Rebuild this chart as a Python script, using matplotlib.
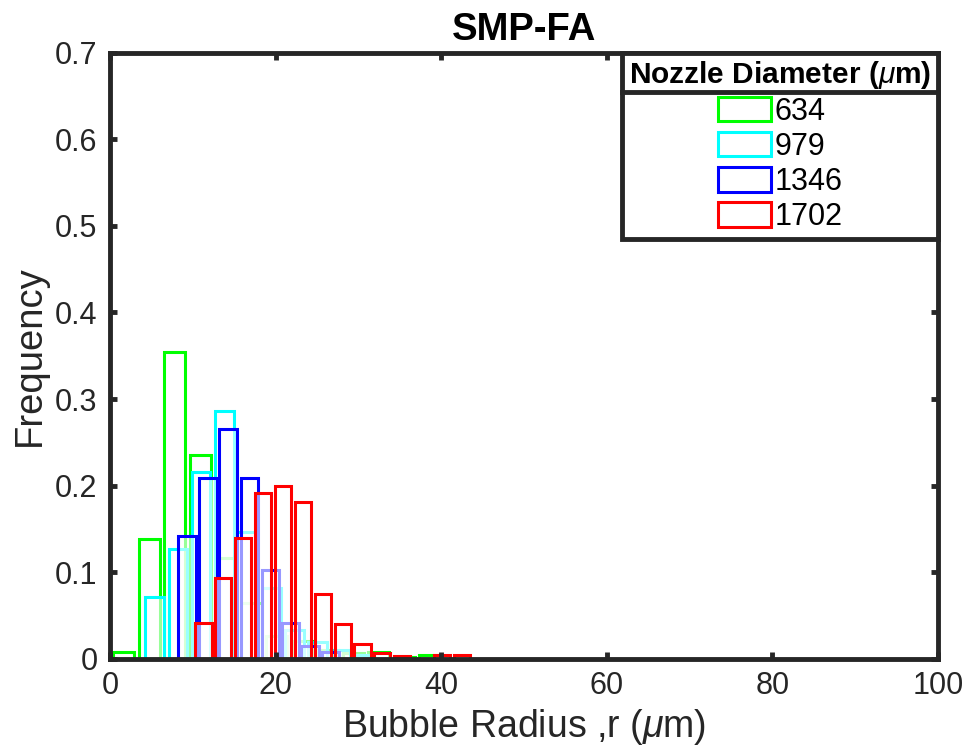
import numpy as np
import matplotlib
matplotlib.use("Agg")
import matplotlib.pyplot as plt
from matplotlib.lines import Line2D

plt.rcParams['font.family'] = ['Liberation Sans', 'DejaVu Sans']
plt.rcParams['mathtext.fontset'] = 'custom'
plt.rcParams['mathtext.it'] = 'Liberation Sans:italic'
plt.rcParams['mathtext.rm'] = 'Liberation Sans'

# nozzle diameters (um) and histogram bins
labels = ['634', '979', '1346', '1702']
colors = ['#00ff00', '#00ffff', '#0000ff', '#ff0000']

g_centers = [1.65, 4.73, 7.81, 10.89, 13.97, 17.05, 20.13, 23.21, 26.29, 29.37, 32.45, 35.53, 38.61]
g_freq = [0.008, 0.139, 0.354, 0.235, 0.116, 0.065, 0.026, 0.021, 0.010, 0.007, 0.008, 0.002, 0.004]
g_width = 2.55

c_centers = [5.4, 8.2, 11.0, 13.8, 16.5, 19.5, 22.3, 25.1, 27.9, 30.7]
c_freq = [0.072, 0.127, 0.216, 0.286, 0.146, 0.082, 0.033, 0.019, 0.010, 0.004]
c_width = 2.25

b_centers = [9.3, 11.85, 14.25, 16.85, 19.35, 21.8, 24.15, 26.6]
b_freq = [0.142, 0.209, 0.266, 0.209, 0.103, 0.041, 0.015, 0.008]
b_width = 2.1

r_centers = [11.3, 13.7, 16.1, 18.5, 20.9, 23.3, 25.7, 28.1, 30.5, 32.9, 35.3, 37.7, 40.1, 42.5]
r_freq = [0.041, 0.093, 0.140, 0.192, 0.200, 0.181, 0.075, 0.040, 0.017, 0.007, 0.003, 0.0, 0.005, 0.005]
r_width = 1.95

series = [(g_centers, g_freq, g_width), (c_centers, c_freq, c_width),
          (b_centers, b_freq, b_width), (r_centers, r_freq, r_width)]

dark = '#262626'
fig = plt.figure(figsize=(9.69, 7.53), dpi=100)
ax = fig.add_axes([0.1135, 0.125, 0.8545, 0.805])

for (cx, fr, w), col, lab in zip(series, colors, labels):
    ax.bar(cx, fr, width=w, facecolor=(1, 1, 1, 0.6), edgecolor=col,
           linewidth=2.2, label=lab)

ax.set_xlim(0, 100)
ax.set_ylim(0, 0.7)
ax.set_xticks(np.arange(0, 101, 20))
ax.set_yticks(np.arange(0, 0.71, 0.1))
ax.set_yticklabels(['0', '0.1', '0.2', '0.3', '0.4', '0.5', '0.6', '0.7'])
ax.tick_params(direction='in', length=5, width=3.5, labelsize=22, colors=dark,
               labelcolor=dark, top=True, right=True, pad=9)
for s in ax.spines.values():
    s.set_linewidth(3.5)
    s.set_color(dark)

ax.set_xlabel('Bubble Radius ,r ($\\mu$m)', fontsize=27, color=dark, labelpad=4)
ax.set_ylabel('Frequency', fontsize=27.5, color=dark, labelpad=5)
ax.set_title('SMP-FA', fontsize=27.5, fontweight='bold', pad=9)

leg = ax.legend(title='Nozzle Diameter ($\\mu$m)', loc='upper right',
                bbox_to_anchor=(1.0, 1.0), fontsize=22, frameon=True, framealpha=1,
                fancybox=False, borderaxespad=0, handlelength=1.75,
                handleheight=0.85, handletextpad=0.1, labelspacing=0.17,
                borderpad=0.22, title_fontproperties={'weight': 'bold', 'size': 21.5})
leg.get_frame().set_linewidth(3.5)
leg.get_frame().set_edgecolor(dark)
leg._legend_box.align = 'center'
leg.set_zorder(10)

fig.canvas.draw()
r = fig.canvas.get_renderer()
lb = leg.get_window_extent(r)
tb = leg.get_title().get_window_extent(r)
ysep = tb.y0 - 1
W, H = fig.get_size_inches() * fig.dpi
fig.add_artist(Line2D([lb.x0 / W, lb.x1 / W], [ysep / H, ysep / H],
                      transform=fig.transFigure, color=dark, linewidth=3.5, zorder=11))

fig.savefig('out.png', dpi=100)
